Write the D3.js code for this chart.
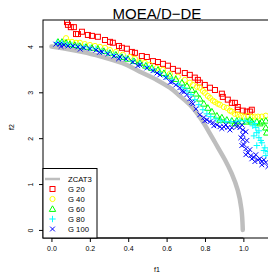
<!DOCTYPE html>
<html>
<head>
<meta charset="utf-8">
<script src="https://cdn.jsdelivr.net/npm/d3@7"></script>
<style>
	body { margin: 0; background: #fff; }
	svg text { font-family: "Liberation Sans", Arial, sans-serif; fill: #000; }
</style>
</head>
<body>
<script>
var title = "MOEA/D\u2212DE";
var xTicks = [0, 0.2, 0.4, 0.6, 0.8, 1.0];
var yTicks = [0, 1, 2, 3, 4];
var xlim = [0, 1.1];
var ylim = [0, 4.4];
var legendLabels = ["ZCAT3", "G 20", "G 40", "G 60", "G 80", "G 100"];

var front = [[0,4.0],[0.06,3.96],[0.164,3.88],[0.268,3.77],[0.367,3.64],[0.461,3.45],[0.549,3.27],
	[0.617,3.10],[0.669,2.92],[0.721,2.73],[0.789,2.36],[0.826,2.10],[0.867,1.80],[0.904,1.53],
	[0.940,1.22],[0.971,0.86],[0.990,0.45],[0.997,0.0]];

var g20 = [[0.081,4.53],[0.086,4.47],[0.101,4.42],[0.117,4.42],[0.128,4.27],[0.138,4.27],[0.159,4.32],
	[0.190,4.25],[0.211,4.23],[0.242,4.21],[0.279,4.14],[0.305,4.10],[0.320,4.08],[0.352,4.01],
	[0.367,3.97],[0.393,3.95],[0.419,3.88],[0.435,3.86],[0.471,3.79],[0.497,3.77],[0.529,3.68],
	[0.555,3.66],[0.581,3.62],[0.607,3.58],[0.633,3.51],[0.659,3.47],[0.695,3.42],[0.721,3.38],
	[0.747,3.32],[0.763,3.27],[0.773,3.21],[0.799,3.16],[0.826,3.10],[0.852,3.05],[0.888,2.97],
	[0.893,2.90],[0.919,2.84],[0.940,2.77],[0.956,2.77],[0.971,2.68],[0.971,2.62],[0.997,2.60],
	[1.018,2.58],[1.034,2.58],[1.044,2.62]];

var g40 = [[0.076,4.18],[0.086,4.10],[0.107,4.10],[0.128,4.08],[0.148,4.08],[0.174,4.05],[0.201,4.03],
	[0.227,4.01],[0.253,3.99],[0.279,3.97],[0.305,3.92],[0.336,3.88],[0.372,3.82],[0.409,3.77],
	[0.435,3.73],[0.461,3.66],[0.487,3.64],[0.513,3.60],[0.549,3.53],[0.581,3.49],[0.617,3.40],
	[0.659,3.34],[0.695,3.27],[0.721,3.21],[0.737,3.16],[0.758,3.12],[0.773,3.10],[0.789,3.03],
	[0.799,2.99],[0.815,2.92],[0.826,2.88],[0.841,2.82],[0.852,2.79],[0.867,2.75],[0.878,2.73],
	[0.898,2.68],[0.914,2.66],[0.930,2.60],[0.940,2.58],[0.956,2.53],[0.971,2.51],[0.987,2.49],
	[1.003,2.47],[1.023,2.49],[1.044,2.47],[1.060,2.47],[1.076,2.47],[1.096,2.47],[1.117,2.49]];

var g60 = [[0.034,4.10],[0.055,4.10],[0.076,4.08],[0.096,4.05],[0.122,4.03],[0.148,4.01],[0.180,3.99],
	[0.211,3.97],[0.242,3.95],[0.273,3.90],[0.305,3.86],[0.336,3.82],[0.367,3.77],[0.398,3.73],
	[0.430,3.68],[0.461,3.64],[0.492,3.58],[0.523,3.53],[0.555,3.49],[0.586,3.42],[0.617,3.36],
	[0.648,3.29],[0.680,3.21],[0.706,3.14],[0.732,3.05],[0.753,2.97],[0.773,2.86],[0.794,2.75],
	[0.815,2.66],[0.836,2.58],[0.862,2.49],[0.888,2.45],[0.914,2.40],[0.940,2.38],[0.966,2.38],
	[0.992,2.36],[1.018,2.36],[1.044,2.36],[1.070,2.36],[1.096,2.36],[1.117,2.38],[1.117,2.23],
	[1.122,2.12],[0.878,2.40],[0.956,2.32],[1.034,2.40],[1.086,2.32]];

var g80 = [[0.029,4.08],[0.055,4.08],[0.081,4.05],[0.107,4.03],[0.138,4.01],[0.169,3.99],[0.201,3.97],
	[0.232,3.95],[0.263,3.90],[0.294,3.86],[0.326,3.82],[0.357,3.77],[0.388,3.75],[0.424,3.68],
	[0.461,3.62],[0.497,3.56],[0.529,3.49],[0.565,3.42],[0.596,3.34],[0.628,3.27],[0.659,3.18],
	[0.685,3.10],[0.706,3.03],[0.727,2.95],[0.747,2.84],[0.768,2.73],[0.789,2.62],[0.810,2.53],
	[0.830,2.47],[0.857,2.42],[0.883,2.38],[0.909,2.36],[0.935,2.36],[0.961,2.36],[0.982,2.38],
	[1.008,2.38],[1.034,2.36],[1.060,2.32],[1.065,2.23],[1.070,2.12],[1.081,2.01],[1.096,1.90],
	[1.112,1.79],[1.128,1.71],[1.049,2.27],[1.081,2.16],[1.055,2.05],[1.091,1.95],[1.070,1.84],
	[1.107,1.73],[1.117,1.62]];

var g100 = [[0.023,4.05],[0.044,4.05],[0.065,4.03],[0.086,4.01],[0.112,4.01],[0.138,3.99],[0.169,3.97],
	[0.201,3.95],[0.232,3.92],[0.263,3.88],[0.294,3.84],[0.326,3.79],[0.357,3.77],[0.388,3.73],
	[0.424,3.66],[0.461,3.60],[0.497,3.53],[0.529,3.47],[0.565,3.38],[0.596,3.32],[0.628,3.23],
	[0.648,3.16],[0.669,3.10],[0.690,3.01],[0.706,2.95],[0.721,2.86],[0.737,2.75],[0.753,2.64],
	[0.773,2.51],[0.794,2.45],[0.810,2.40],[0.826,2.36],[0.841,2.34],[0.862,2.29],[0.878,2.25],
	[0.898,2.25],[0.919,2.23],[0.940,2.23],[0.966,2.25],[0.992,2.29],[0.997,2.18],[0.997,2.08],
	[0.997,1.97],[1.003,1.86],[1.013,1.77],[1.023,1.68],[1.039,1.62],[1.055,1.58],[1.076,1.53],
	[1.096,1.49],[1.117,1.47],
	[0.050,4.00],[0.150,3.94],[0.250,3.87],[0.350,3.73],[0.450,3.58],[0.550,3.42],[0.620,3.22],
	[0.680,3.02],[0.730,2.78],[0.799,2.38],[0.846,2.27],[0.888,2.21],[0.930,2.18],[0.961,2.32],
	[0.909,2.29],[0.982,2.23],[1.013,2.14],[0.987,2.01],[1.018,1.95],[0.992,1.84],[1.034,1.75],
	[1.013,1.64],[1.044,1.55],[1.065,1.64],[1.086,1.55],[1.107,1.53],[1.128,1.38],[1.096,1.42],
	[1.060,1.49]];
//}}}

var W = 268, H = 274;
var box = { l: 43, t: 20, r: 271, b: 238 };

// R style 4% padding
function padded(lim) { var d = (lim[1] - lim[0]) * 0.04; return [lim[0] - d, lim[1] + d]; }

var x = d3.scaleLinear().domain(padded(xlim)).range([box.l, box.r]);
var y = d3.scaleLinear().domain(padded(ylim)).range([box.b, box.t]);

var svg = d3.select('body').append('svg').attr('width', W).attr('height', H);

svg.append('clipPath').attr('id', 'clip')
	.append('rect').attr('x', box.l).attr('y', box.t)
	.attr('width', box.r - box.l).attr('height', box.b - box.t);

var plot = svg.append('g').attr('clip-path', 'url(#clip)');

// symbols //{{{
function sym(g, type, color, cx, cy) {
	var s = 2.5;
	if (type == 'square') {
		g.append('rect').attr('x', cx - s).attr('y', cy - s).attr('width', 2 * s).attr('height', 2 * s)
			.attr('fill', 'none').attr('stroke', color).attr('stroke-width', 1);
	} else if (type == 'circle') {
		g.append('circle').attr('cx', cx).attr('cy', cy).attr('r', 2.6)
			.attr('fill', 'none').attr('stroke', color).attr('stroke-width', 1);
	} else if (type == 'triangle') {
		var h = 3.2;
		g.append('path').attr('d', 'M' + cx + ',' + (cy - h) + 'L' + (cx + h) + ',' + (cy + h * 0.75) + 'L' + (cx - h) + ',' + (cy + h * 0.75) + 'Z')
			.attr('fill', 'none').attr('stroke', color).attr('stroke-width', 1);
	} else if (type == 'plus') {
		var p = 3.2;
		g.append('path').attr('d', 'M' + (cx - p) + ',' + cy + 'H' + (cx + p) + 'M' + cx + ',' + (cy - p) + 'V' + (cy + p))
			.attr('stroke', color).attr('stroke-width', 1);
	} else {
		var q = 2.4;
		g.append('path').attr('d', 'M' + (cx - q) + ',' + (cy - q) + 'L' + (cx + q) + ',' + (cy + q) + 'M' + (cx - q) + ',' + (cy + q) + 'L' + (cx + q) + ',' + (cy - q))
			.attr('stroke', color).attr('stroke-width', 1);
	}
}
//}}}

var series = [
	{ d: g20, t: 'square', c: '#ff0000' },
	{ d: g40, t: 'circle', c: '#ffff00' },
	{ d: g60, t: 'triangle', c: '#00ff00' },
	{ d: g80, t: 'plus', c: '#00ffff' },
	{ d: g100, t: 'cross', c: '#0000ff' }
];

// true front
plot.append('path').datum(front)
	.attr('d', d3.line().curve(d3.curveMonotoneY).x(function(d) { return x(d[0]); }).y(function(d) { return y(d[1]); }))
	.attr('fill', 'none').attr('stroke', '#bebebe').attr('stroke-width', 4.5).attr('stroke-linecap', 'round');

series.forEach(function(s) {
	var g = plot.append('g');
	s.d.forEach(function(p) { sym(g, s.t, s.c, x(p[0]), y(p[1])); });
});

// axes //{{{
var xAxis = svg.append('g').attr('transform', 'translate(0,' + box.b + ')')
	.call(d3.axisBottom(x).tickValues(xTicks).tickSize(4).tickPadding(4).tickFormat(d3.format('.1f')));
xAxis.select('.domain').remove();
xAxis.selectAll('text').style('font-size', '7px').attr('font-family', null);
xAxis.selectAll('line').attr('stroke', '#000');
xAxis.append('path').attr('d', 'M' + x(xTicks[0]) + ',0H' + x(xTicks[xTicks.length - 1])).attr('stroke', '#000');

var yAxis = svg.append('g').attr('transform', 'translate(' + box.l + ',0)')
	.call(d3.axisLeft(y).tickValues(yTicks).tickSize(4).tickFormat(d3.format('d')));
yAxis.select('.domain').remove();
yAxis.selectAll('line').attr('stroke', '#000');
yAxis.selectAll('text').style('font-size', '7px').attr('font-family', null)
	.attr('x', null).attr('dy', null)
	.attr('text-anchor', 'middle')
	.attr('transform', 'translate(-12,0) rotate(-90)')
	.attr('dy', '0.35em');
//}}}

svg.append('rect').attr('x', box.l).attr('y', box.t)
	.attr('width', box.r - box.l).attr('height', box.b - box.t)
	.attr('fill', 'none').attr('stroke', '#000').attr('stroke-width', 1);

svg.append('text').attr('x', (box.l + box.r) / 2).attr('y', 18.5)
	.attr('text-anchor', 'middle').style('font-size', '15px').text(title);
svg.append('text').attr('x', (box.l + box.r) / 2).attr('y', 272)
	.attr('text-anchor', 'middle').style('font-size', '7px').text('f1');
svg.append('text').attr('transform', 'translate(14,127) rotate(-90)')
	.attr('text-anchor', 'middle').style('font-size', '7px').text('f2');

// legend //{{{
var leg = svg.append('g');
leg.append('rect').attr('x', box.l).attr('y', 168.5).attr('width', 54).attr('height', box.b - 168.5)
	.attr('fill', '#fff').attr('stroke', '#000').attr('stroke-width', 1);
legendLabels.forEach(function(lab, i) {
	var ly = 179 + i * 10;
	if (i == 0) {
		leg.append('line').attr('x1', 45).attr('x2', 60).attr('y1', ly).attr('y2', ly)
			.attr('stroke', '#bebebe').attr('stroke-width', 2.5);
	} else {
		sym(leg, series[i - 1].t, series[i - 1].c, 52.5, ly);
	}
	leg.append('text').attr('x', 68).attr('y', ly).attr('dy', '0.35em')
		.style('font-size', '7.7px').text(lab);
});
//}}}
</script>
</body>
</html>
